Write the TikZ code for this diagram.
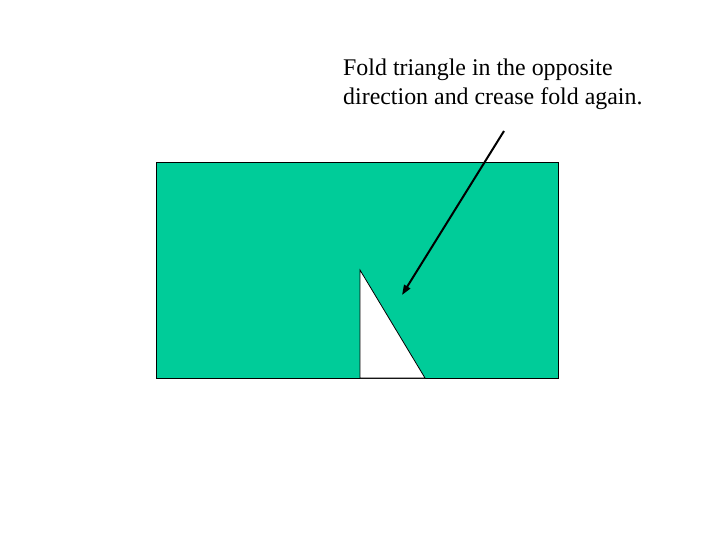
\documentclass[tikz,border=0pt]{standalone}
\usepackage{fontspec}
\setmainfont{Liberation Serif}
\usetikzlibrary{arrows.meta}
\definecolor{sheet}{RGB}{0,204,153}
\tikzset{
  caption/.style={anchor=base west, inner sep=0pt, font=\fontsize{23.9}{29}\selectfont},
  pointer/.style={line width=2pt, -{Triangle[length=10pt,width=7pt]}}
}
\begin{document}
\begin{tikzpicture}[x=1pt,y=-1pt]
\useasboundingbox (0,0) rectangle (720,540);
\fill[white] (0,0) rectangle (720,540);
\draw[fill=sheet, line width=0.8pt] (156,162) rectangle (558,378);
\draw[fill=white, line width=0.8pt] (360,270) -- (360,378) -- (425,378) -- cycle;
\node[caption] (t1) at (343,76) {Fold triangle in the opposite};
\node[caption] (t2) at (343,105) {direction and crease fold again.};
\coordinate (s) at (504,131);
\coordinate (e) at (402,295);
\draw[pointer] (s) -- (e);
\end{tikzpicture}
\end{document}
